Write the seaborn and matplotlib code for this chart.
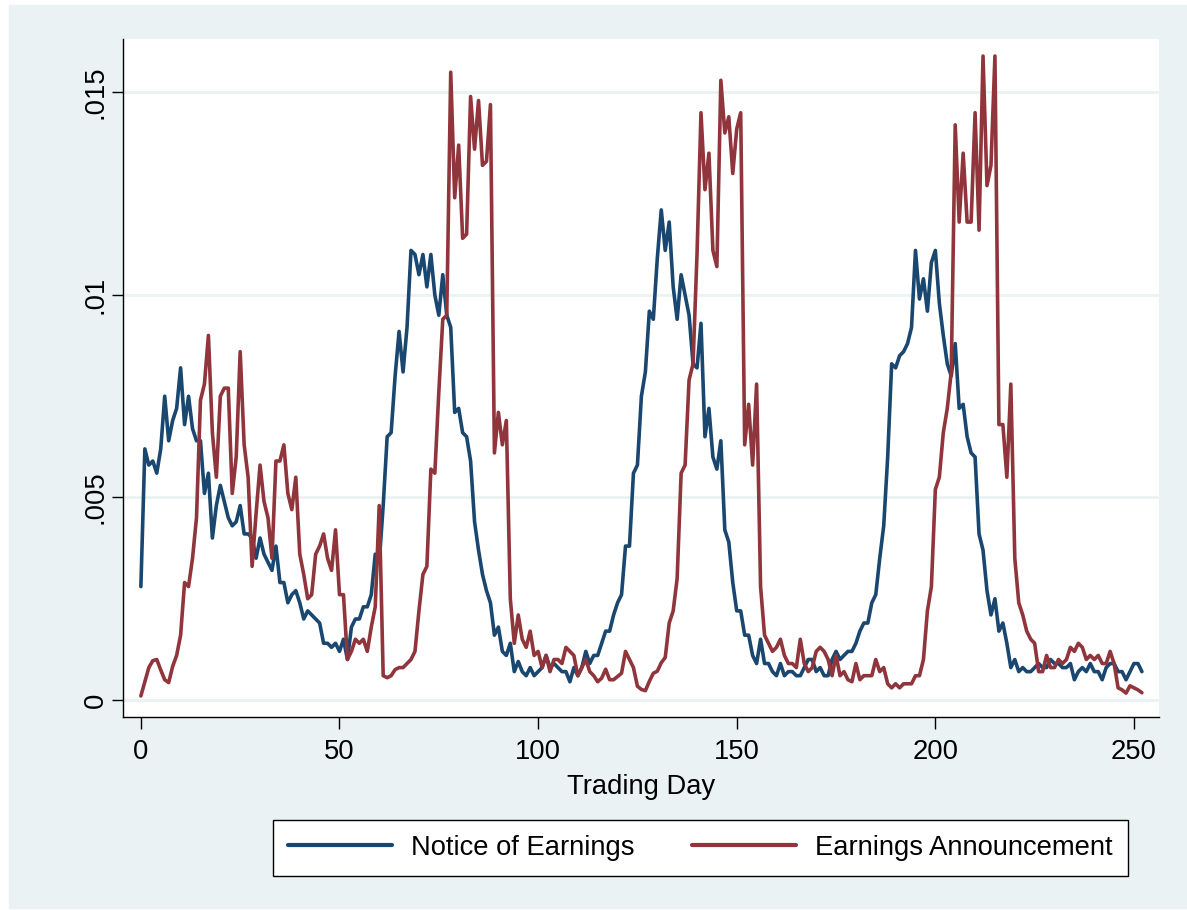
import numpy as np
import pandas as pd
import seaborn as sns
import matplotlib.pyplot as plt
from matplotlib.patches import Rectangle

sns.set_style("white")
plt.rcParams['font.family'] = ['Liberation Sans', 'DejaVu Sans']
plt.rcParams.update({'text.color': 'black', 'axes.labelcolor': 'black',
                     'xtick.color': 'black', 'ytick.color': 'black'})

## DATA (one value per trading day)
notice = [
    0.0028, 0.0062, 0.0058, 0.0059, 0.0056, 0.0062, 0.0075, 0.0064, 0.0069, 0.0072,
    0.0082, 0.0068, 0.0075, 0.0067, 0.0064, 0.0064, 0.0051, 0.0056, 0.0040, 0.0048,
    0.0053, 0.0049, 0.0045, 0.0043, 0.0044, 0.0048, 0.0041, 0.0041, 0.0040, 0.0035,
    0.0040, 0.0036, 0.0034, 0.0032, 0.0038, 0.0029, 0.0029, 0.0024, 0.0026, 0.0027,
    0.0024, 0.0020, 0.0022, 0.0021, 0.0020, 0.0019, 0.0014, 0.0014, 0.0013, 0.0014,
    0.0012, 0.0015, 0.0010, 0.0018, 0.0020, 0.0020, 0.0023, 0.0023, 0.0026, 0.0036,
    0.0034, 0.0048, 0.0065, 0.0066, 0.0080, 0.0091, 0.0081, 0.0092, 0.0111, 0.0110,
    0.0105, 0.0110, 0.0102, 0.0110, 0.0100, 0.0095, 0.0105, 0.0095, 0.0092, 0.0071,
    0.0072, 0.0066, 0.0065, 0.0059, 0.0044, 0.0037, 0.0031, 0.0027, 0.0024, 0.0016,
    0.0018, 0.0012, 0.0011, 0.0014, 0.0007, 0.00095, 0.0007, 0.0006, 0.0008, 0.0006,
    0.0007, 0.0008, 0.0011, 0.0008, 0.0009, 0.0008, 0.0007, 0.0007, 0.00045, 0.0008,
    0.0006, 0.0008, 0.0012, 0.0009, 0.0011, 0.0011, 0.0014, 0.0017, 0.0017, 0.0021,
    0.0024, 0.0026, 0.0038, 0.0038, 0.0056, 0.0058, 0.0075, 0.0081, 0.0096, 0.0094,
    0.0109, 0.0121, 0.0111, 0.0118, 0.0102, 0.0094, 0.0105, 0.0100, 0.0095, 0.0083,
    0.0082, 0.0093, 0.0065, 0.0072, 0.0060, 0.0057, 0.0064, 0.0042, 0.0039, 0.0029,
    0.0022, 0.0022, 0.0016, 0.0016, 0.0011, 0.0009, 0.0015, 0.0009, 0.0009, 0.0007,
    0.0006, 0.0009, 0.0006, 0.0007, 0.0007, 0.0006, 0.0006, 0.0008, 0.0010, 0.0010,
    0.0007, 0.0008, 0.0006, 0.0006, 0.0010, 0.0012, 0.0010, 0.0011, 0.0012, 0.0012,
    0.0014, 0.0017, 0.0019, 0.0019, 0.0024, 0.0026, 0.0035, 0.0043, 0.0060, 0.0083,
    0.0082, 0.0085, 0.0086, 0.0088, 0.0092, 0.0111, 0.0099, 0.0104, 0.0096, 0.0108,
    0.0111, 0.0098, 0.0090, 0.0083, 0.0080, 0.0088, 0.0072, 0.0073, 0.0065, 0.0061,
    0.0060, 0.0041, 0.0037, 0.0027, 0.0021, 0.0025, 0.0017, 0.0019, 0.0014, 0.0008,
    0.0010, 0.0007, 0.0008, 0.0007, 0.0007, 0.0008, 0.0009, 0.0008, 0.0008, 0.0010,
    0.0009, 0.0009, 0.0008, 0.0008, 0.0009, 0.0005, 0.0007, 0.0008, 0.0007, 0.0009,
    0.0007, 0.0007, 0.0005, 0.0008, 0.0009, 0.0009, 0.0007, 0.0007, 0.0005, 0.0007,
    0.0009, 0.0009, 0.0007,
]

announce = [
    0.0001, 0.00045, 0.0008, 0.00097, 0.0010, 0.00074, 0.0005, 0.00043, 0.00083, 0.0011,
    0.0016, 0.0029, 0.0028, 0.0035, 0.0045, 0.0074, 0.0078, 0.0090, 0.0066, 0.0055,
    0.0075, 0.0077, 0.0077, 0.0051, 0.0060, 0.0086, 0.0063, 0.0055, 0.0033, 0.0046,
    0.0058, 0.0049, 0.0045, 0.0035, 0.0059, 0.0059, 0.0063, 0.0051, 0.0047, 0.0055,
    0.0036, 0.0031, 0.0025, 0.0026, 0.0036, 0.0038, 0.0041, 0.0035, 0.0032, 0.0042,
    0.0026, 0.0026, 0.0010, 0.0012, 0.0015, 0.0014, 0.0015, 0.0012, 0.0018, 0.0023,
    0.0048, 0.0006, 0.00055, 0.0006, 0.00075, 0.0008, 0.0008, 0.0009, 0.0010, 0.0012,
    0.0022, 0.0031, 0.0033, 0.0057, 0.0056, 0.0076, 0.0094, 0.0095, 0.0155, 0.0124,
    0.0137, 0.0114, 0.0115, 0.0149, 0.0136, 0.0148, 0.0132, 0.0133, 0.0147, 0.0061,
    0.0071, 0.0063, 0.0069, 0.0025, 0.0014, 0.0021, 0.0015, 0.0013, 0.0017, 0.0011,
    0.0012, 0.0008, 0.0011, 0.0007, 0.0010, 0.0010, 0.0009, 0.0013, 0.0012, 0.0011,
    0.0006, 0.0008, 0.0010, 0.0007, 0.0006, 0.00045, 0.00054, 0.00076, 0.0005, 0.0005,
    0.00058, 0.00066, 0.0012, 0.0010, 0.0008, 0.00034, 0.00026, 0.00023, 0.00046, 0.00066,
    0.00071, 0.00092, 0.00105, 0.0019, 0.0022, 0.0030, 0.0056, 0.0058, 0.0079, 0.0083,
    0.0110, 0.0145, 0.0126, 0.0135, 0.0111, 0.0107, 0.0153, 0.0140, 0.0144, 0.0130,
    0.0141, 0.0145, 0.0063, 0.0073, 0.0058, 0.0078, 0.0028, 0.0016, 0.0014, 0.0012,
    0.0013, 0.0015, 0.0011, 0.0009, 0.0009, 0.0008, 0.0015, 0.0009, 0.0007, 0.0008,
    0.0012, 0.0013, 0.0012, 0.0010, 0.0006, 0.0011, 0.0006, 0.0007, 0.0005, 0.00045,
    0.0009, 0.0005, 0.0006, 0.0006, 0.0006, 0.0010, 0.0007, 0.0008, 0.0004, 0.0003,
    0.0004, 0.0003, 0.0004, 0.0004, 0.0004, 0.0006, 0.0006, 0.0010, 0.0022, 0.0028,
    0.0052, 0.0055, 0.0066, 0.0072, 0.0081, 0.0142, 0.0118, 0.0135, 0.0118, 0.0118,
    0.0145, 0.0116, 0.0159, 0.0127, 0.0132, 0.0159, 0.0068, 0.0068, 0.0055, 0.0078,
    0.0035, 0.0024, 0.0021, 0.0017, 0.0015, 0.0014, 0.0007, 0.0007, 0.0011, 0.0008,
    0.0008, 0.0010, 0.0009, 0.0010, 0.0013, 0.0012, 0.0014, 0.0013, 0.0010, 0.0011,
    0.0010, 0.0011, 0.0009, 0.0009, 0.0012, 0.0009, 0.0003, 0.00025, 0.00017, 0.00035,
    0.0003, 0.00025, 0.00018,
]

series_names = ['Notice of Earnings', 'Earnings Announcement']
ytick_vals = [0, 0.005, 0.01, 0.015]
ytick_labels = ['0', '.005', '.01', '.015']
xtick_vals = [0, 50, 100, 150, 200, 250]

days = np.arange(len(notice))
df = pd.DataFrame({'Trading Day': days, series_names[0]: notice, series_names[1]: announce})
long = df.melt(id_vars='Trading Day', var_name='series', value_name='share')

# stata s2color look
navy = '#1A476F'
maroon = '#90353B'
bg = '#EAF2F3'
fs = 19.7
lw = 2.6
W, H = 1187, 910

fig = plt.figure(figsize=(W / 100, H / 100), dpi=100, facecolor='white')
fig.patches.append(Rectangle((9 / W, 2 / H), 1 - 9 / W, (H - 7) / H,
                             transform=fig.transFigure, color=bg, zorder=-10))
ax = fig.add_axes([123 / W, 1 - 717 / H, (1159 - 123) / W, (717 - 39) / H])
ax.set_facecolor('white')

sns.lineplot(data=long, x='Trading Day', y='share', hue='series',
             hue_order=series_names, palette=[navy, maroon],
             linewidth=lw, ax=ax)
for l in ax.lines:
    l.set_solid_joinstyle('round')

ax.set_xlim(-4.5, 256.3)
ax.set_ylim(-0.00042, 0.01632)
ax.set_xticks(xtick_vals)
ax.set_yticks(ytick_vals)
ax.set_yticklabels(ytick_labels)
ax.yaxis.grid(True, color=bg, linewidth=2)
ax.xaxis.grid(False)
ax.set_axisbelow(True)

for s in ['top', 'right']:
    ax.spines[s].set_visible(False)
for s in ['left', 'bottom']:
    ax.spines[s].set_color('black')
    ax.spines[s].set_linewidth(1)

ax.tick_params(axis='x', bottom=True, length=8.6, width=1, pad=7.5, labelsize=fs)
ax.tick_params(axis='y', left=True, length=8, width=1, pad=2.5, labelsize=fs, labelrotation=90)
for lbl in ax.get_yticklabels():
    lbl.set_va('center')

ax.set_xlabel('Trading Day', fontsize=fs, labelpad=6)
ax.set_ylabel('')

handles, labels = ax.get_legend_handles_labels()
ax.get_legend().remove()
leg = fig.legend(handles, labels, loc='upper left', bbox_to_anchor=(273 / W, 1 - 820 / H),
                 ncol=2, frameon=True, fancybox=False, edgecolor='black', framealpha=1,
                 fontsize=fs, handlelength=3.8, handletextpad=0.7, columnspacing=2.1,
                 borderpad=0.55, borderaxespad=0)
leg.get_frame().set_linewidth(1)
for h in leg.get_lines():
    h.set_linewidth(lw + 0.4)

plt.savefig('out.png', dpi=100, facecolor='white')
